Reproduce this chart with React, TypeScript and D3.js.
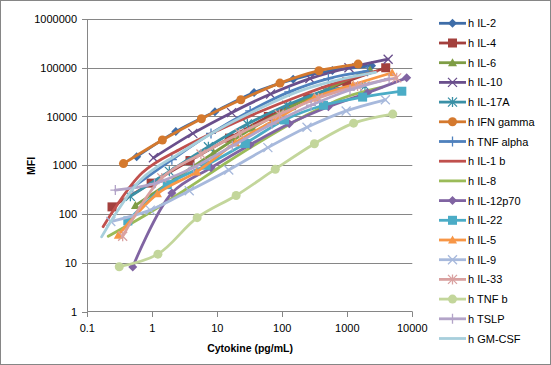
import React from "react";
import * as d3 from "d3";

// series, in legend order
const seriesNames = [
  "h IL-2", "h IL-4", "h IL-6", "h IL-10", "h IL-17A", "h IFN gamma",
  "h TNF alpha", "h IL-1 b", "h IL-8", "h IL-12p70", "h IL-22", "h IL-5",
  "h IL-9", "h IL-33", "h TNF b", "h TSLP", "h GM-CSF",
];
const seriesColors = [
  "#3E6DA8", "#A3403D", "#7E9D45", "#6A4F8C", "#3A90A6", "#D4792E",
  "#4F81BD", "#C0504D", "#9BBB59", "#8064A2", "#4BACC6", "#F79646",
  "#A7B9DC", "#D9A1A0", "#C3D69B", "#B3A4C8", "#A7CFDC",
];
const seriesMarkers = [
  "diamond", "square", "triangle", "x", "star", "circle", "plus", "dash", "dash",
  "diamond", "square", "triangle", "x", "star", "circle", "plus", "dash",
];

// pg/mL
const seriesX = [
  [0.575, 2.3, 9.2, 36.8, 147, 590, 2360],
  [0.24, 0.96, 3.8, 15.4, 61, 246, 980, 3900],
  [0.55, 2.2, 8.8, 35, 140, 560, 2240],
  [1.04, 4.2, 16.6, 66, 266, 1060, 4250],
  [0.46, 1.83, 7.3, 29, 117, 470, 1870],
  [0.36, 1.43, 5.7, 23, 92, 366, 1465],
  [0.5, 2, 8, 32, 128, 512, 2048],
  [0.175, 0.7, 2.8, 11.2, 45, 179, 717, 2870],
  [0.21, 0.84, 3.4, 13.4, 54, 215, 860, 3440],
  [0.5, 2, 8, 32, 128, 512, 2048, 8200],
  [0.42, 1.7, 6.7, 27, 108, 430, 1720, 6900],
  [0.3, 1.2, 4.8, 19, 77, 307, 1230, 4900],
  [0.23, 0.93, 3.7, 15, 60, 240, 960, 3850],
  [0.35, 1.4, 5.6, 22, 90, 360, 1440, 5750],
  [0.31, 1.22, 4.9, 19.5, 78, 312, 1250, 5000],
  [0.27, 1.08, 4.3, 17, 69, 277, 1100, 4400],
  [0.166, 0.66, 2.7, 10.6, 42, 170, 680, 2720],
];
// MFI
const seriesY = [
  [1500, 4900, 12500, 31000, 58000, 88000, 110000],
  [140, 430, 1250, 3600, 10000, 24000, 52000, 100000],
  [150, 520, 1800, 5800, 16000, 40000, 90000],
  [1420, 4500, 12000, 29000, 60000, 100000, 150000],
  [230, 750, 2400, 7000, 17000, 34000, 42000],
  [1080, 3300, 9000, 22000, 48500, 87000, 119000],
  [350, 1300, 4500, 13000, 32000, 60000, 85000],
  [55, 700, 2200, 5500, 12500, 26000, 50000, 85000],
  [35, 100, 330, 1100, 3500, 10000, 24000, 40000],
  [8.2, 270, 890, 2640, 7100, 15800, 30700, 62000],
  [72, 400, 1000, 2800, 8500, 17000, 25000, 33000],
  [37, 260, 730, 2900, 8500, 24000, 45000, 79000],
  [70, 120, 300, 800, 2300, 6000, 13000, 22000],
  [35, 550, 1700, 4500, 11000, 24000, 42000, 62000],
  [8.3, 15, 84, 240, 830, 2760, 7300, 11200],
  [310, 420, 900, 2500, 7000, 17000, 35000, 60000],
  [34, 500, 1800, 5500, 14000, 32000, 55000, 80000],
];

const xTicks = [0.1, 1, 10, 100, 1000, 10000];
const yTicks = [1, 10, 100, 1000, 10000, 100000, 1000000];

const W = 551;
const H = 365;
const font = "'Liberation Sans', Arial, sans-serif";
const axisGray = "#868686";

function Marker({ type, x, y, color }: { type: string; x: number; y: number; color: string }) {
  const r = 4.5;
  if (type === "dash") return null;
  if (type === "circle") return <circle cx={x} cy={y} r={r} fill={color} />;
  if (type === "square")
    return <rect x={x - r} y={y - r} width={r * 2} height={r * 2} fill={color} />;
  if (type === "diamond")
    return <path d={`M${x},${y - r}L${x + r},${y}L${x},${y + r}L${x - r},${y}Z`} fill={color} />;
  if (type === "triangle")
    return <path d={`M${x},${y - r}L${x + r},${y + r * 0.8}L${x - r},${y + r * 0.8}Z`} fill={color} />;
  let d = "";
  if (type === "x" || type === "star") d += `M${x - r},${y - r}L${x + r},${y + r}M${x - r},${y + r}L${x + r},${y - r}`;
  if (type === "plus" || type === "star") d += `M${x},${y - r - 0.5}L${x},${y + r + 0.5}`;
  if (type === "plus") d += `M${x - r - 0.5},${y}L${x + r + 0.5},${y}`;
  return <path d={d} stroke={color} strokeWidth={1.3} fill="none" />;
}

export default function App() {
  const x = d3.scaleLog().domain([0.1, 10000]).range([87.3, 412.3]);
  const y = d3.scaleLog().domain([1, 1000000]).range([311.5, 19]);
  const line = d3
    .line<[number, number]>()
    .x((d) => x(d[0]))
    .y((d) => y(d[1]))
    .curve(d3.curveCatmullRom.alpha(0.5));

  const legendY = (i: number) => 23.3 + i * 19.7;

  return (
    <svg
      width={W}
      height={H}
      style={{ position: "absolute", left: 0, top: 0, background: "#fff" }}
      fontFamily={font}
    >
      <rect x={0.5} y={0.5} width={W - 1} height={H - 1} fill="#fff" stroke={axisGray} />

      {/* grid */}
      {yTicks.slice(1).map((t) => (
        <line key={t} x1={x(0.1)} x2={x(10000)} y1={Math.round(y(t)) + 0.5} y2={Math.round(y(t)) + 0.5} stroke={axisGray} strokeWidth={1} />
      ))}
      {/* axes */}
      <line x1={87.5} x2={87.5} y1={y(1000000)} y2={y(1)} stroke={axisGray} />
      <line x1={x(0.1)} x2={x(10000)} y1={311.5} y2={311.5} stroke={axisGray} />
      {yTicks.map((t) => (
        <g key={t}>
          <line x1={82} x2={87.5} y1={Math.round(y(t)) + 0.5} y2={Math.round(y(t)) + 0.5} stroke={axisGray} />
          <text x={77} y={y(t) + 4} textAnchor="end" fontSize={11} fill="#000">
            {t}
          </text>
        </g>
      ))}
      {xTicks.map((t) => (
        <g key={t}>
          <line x1={Math.round(x(t)) + 0.5} x2={Math.round(x(t)) + 0.5} y1={311.5} y2={317} stroke={axisGray} />
          <text x={x(t)} y={332} textAnchor="middle" fontSize={11} fill="#000">
            {t}
          </text>
        </g>
      ))}
      <text x={250} y={352} textAnchor="middle" fontSize={10.5} fontWeight="bold" fill="#000">
        Cytokine (pg/mL)
      </text>
      <text
        transform="translate(35,166) rotate(-90)"
        textAnchor="middle"
        fontSize={10.5}
        fontWeight="bold"
        fill="#000"
      >
        MFI
      </text>

      {/* series */}
      {seriesNames.map((name, i) => {
        const pts = seriesX[i].map((v, j) => [v, seriesY[i][j]] as [number, number]);
        return (
          <g key={name}>
            <path d={line(pts) || ""} fill="none" stroke={seriesColors[i]} strokeWidth={2.8} strokeLinejoin="round" strokeLinecap="round" />
            {pts.map((p, j) => (
              <Marker key={j} type={seriesMarkers[i]} x={x(p[0])} y={y(p[1])} color={seriesColors[i]} />
            ))}
          </g>
        );
      })}

      {/* legend */}
      {seriesNames.map((name, i) => (
        <g key={name}>
          <line x1={439} x2={466} y1={legendY(i)} y2={legendY(i)} stroke={seriesColors[i]} strokeWidth={2.8} />
          <Marker type={seriesMarkers[i]} x={452.5} y={legendY(i)} color={seriesColors[i]} />
          <text x={468} y={legendY(i) + 4} fontSize={11} fill="#000">
            {name}
          </text>
        </g>
      ))}
    </svg>
  );
}
